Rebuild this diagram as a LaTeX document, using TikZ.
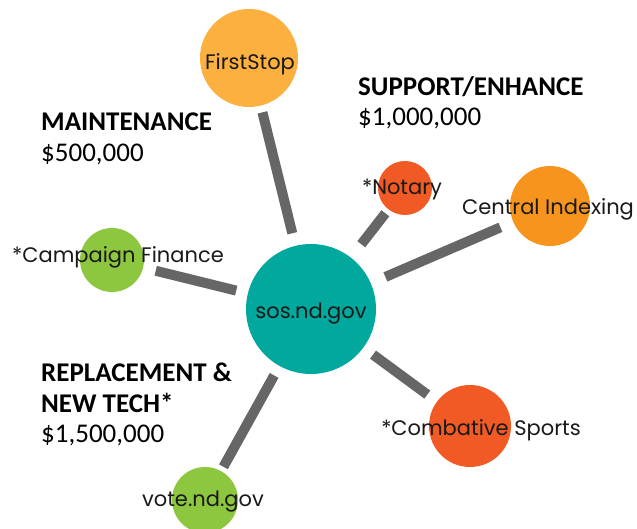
\documentclass[tikz,border=0pt]{standalone}
\usepackage{fontspec}
\setmainfont{Carlito}
\newfontfamily\gothic{Poppins}

\definecolor{sosteal}{RGB}{0,168,157}
\definecolor{fsorange}{RGB}{251,176,64}
\definecolor{ciorange}{RGB}{247,148,30}
\definecolor{redorange}{RGB}{241,90,36}
\definecolor{leafgreen}{RGB}{141,198,63}
\definecolor{linkgray}{RGB}{102,102,102}

\begin{document}
\begin{tikzpicture}[x=1pt, y=-1pt,
    bubble/.style={circle, inner sep=0pt, outer sep=0pt, minimum size=#1},
    tag/.style={font=\gothic\fontsize{21}{24}\selectfont, text=black!90, inner sep=0pt, yshift=-2pt},
    head/.style={font=\fontsize{27}{30.5}\selectfont, align=left, anchor=north west, inner sep=0pt},
    link/.style={linkgray, line width=10pt}]
    \useasboundingbox (0, 0) rectangle (637, 529);

    % budget groups
    \node[head] (maint) at (41, 113) {\textbf{MAINTENANCE}\\\$500,000};
    \node[head] (support) at (358, 76) {\textbf{SUPPORT/ENHANCE}\\\$1,000,000};
    \node[head] (replace) at (41, 363) {\textbf{REPLACEMENT \&}\\\textbf{NEW TECH*}\\\$1,500,000};

    % sites
    \node[bubble=130, fill=sosteal] (sos) at (311, 309) {};
    \node[bubble=98, fill=fsorange] (firststop) at (249, 58) {};
    \node[bubble=54, fill=redorange] (notary) at (405, 188) {};
    \node[bubble=80, fill=ciorange] (indexing) at (550, 206) {};
    \node[bubble=64, fill=leafgreen] (campaign) at (112, 260) {};
    \node[bubble=82, fill=redorange] (combative) at (470, 426) {};
    \node[bubble=66, fill=leafgreen] (vote) at (205, 500) {};

    \node[tag] (sos-txt) at (311, 312) {sos.nd.gov};
    \node[tag] (firststop-txt) at (250, 62) {FirstStop};
    \node[tag] (notary-txt) at (402, 188) {*Notary};
    \node[tag] (indexing-txt) at (548, 207) {Central Indexing};
    \node[tag] (campaign-txt) at (118, 255) {*Campaign Finance};
    \node[tag] (combative-txt) at (481, 428) {*Combative Sports};
    \node[tag] (vote-txt) at (203, 500) {vote.nd.gov};

    % spokes
    \draw[link, shorten <=7pt, shorten >=13pt] (firststop) -- (sos);
    \draw[link, shorten <=5pt, shorten >=17pt] (notary) -- (sos);
    \draw[link, shorten <=14pt, shorten >=16pt] (indexing) -- (sos);
    \draw[link, shorten <=13pt, shorten >=12pt] (campaign) -- (sos);
    \draw[link, shorten <=12pt, shorten >=12pt] (combative) -- (sos);
    \draw[link, shorten <=5pt, shorten >=11pt] (vote) -- (sos);
\end{tikzpicture}
\end{document}
